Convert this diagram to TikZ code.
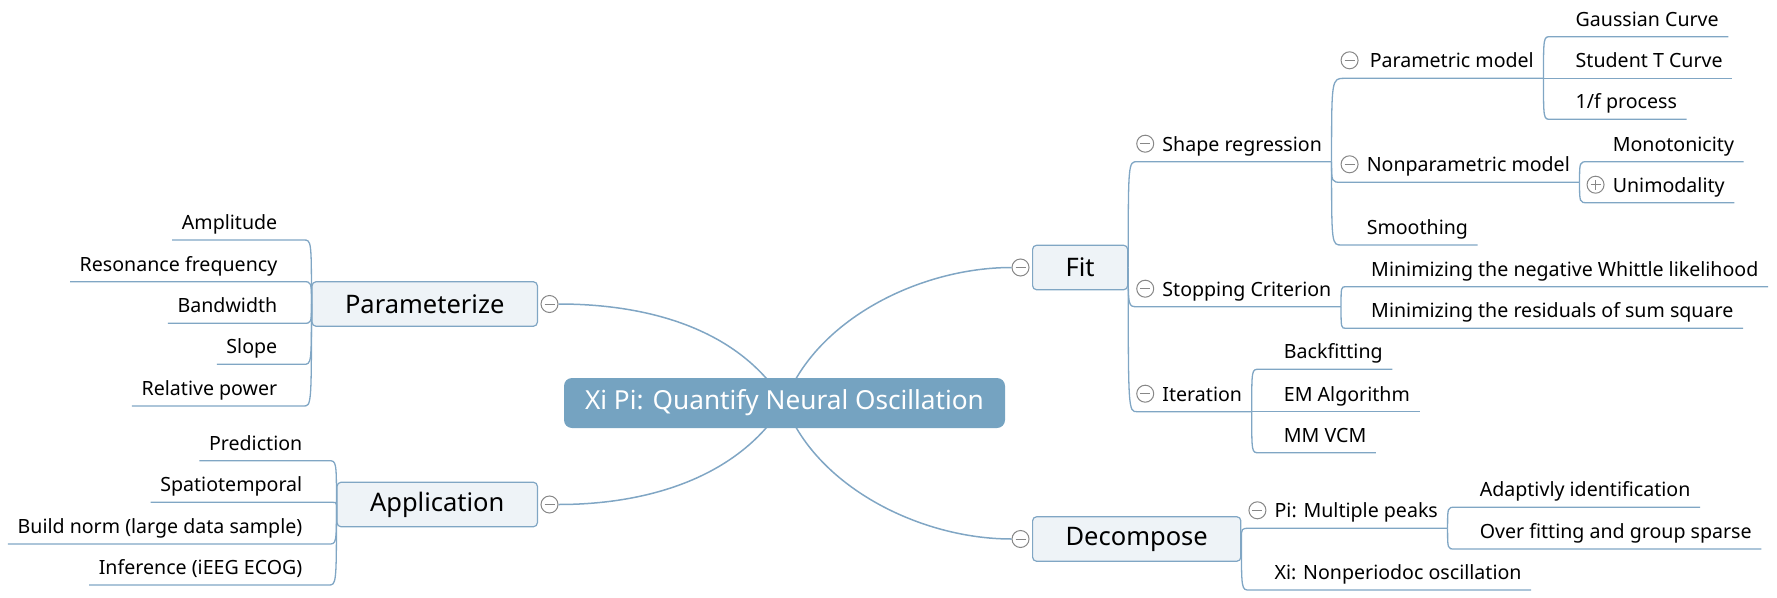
\documentclass[tikz,border=0pt]{standalone}
\usepackage{fontspec}
\setmainfont{Noto Sans}
\usepackage{tikz}
\usetikzlibrary{calc, positioning, backgrounds}
\definecolor{linkblue}{RGB}{128, 166, 196}
\definecolor{topicblue}{RGB}{117, 163, 193}
\definecolor{boxfill}{RGB}{238, 243, 247}
\definecolor{foldgray}{RGB}{135, 135, 135}

\begin{document}
\begin{tikzpicture}[
    x=1pt, y=-1pt,
    topic/.style={fill=topicblue, rounded corners=8pt, text=white, font=\fontsize{26.2}{31}\selectfont, minimum width=441pt, minimum height=50pt, inner sep=0pt},
    branch/.style={draw=linkblue, line width=1.2pt, fill=boxfill, rounded corners=4pt, font=\fontsize{25.5}{30}\selectfont, inner xsep=33pt, minimum height=44.5pt},
    twig/.style={font=\fontsize{19.6}{24}\selectfont, inner xsep=9.5pt, inner ysep=0pt, text depth=10.5pt},
    twigR/.style={twig, anchor=south west, execute at begin node={\hspace*{15.5pt}}},
    twigL/.style={twig, anchor=south east, execute at end node={\hspace*{16.5pt}}},
    fold/.style={circle, draw=foldgray, line width=1pt, fill=white, minimum size=17pt, inner sep=0pt,
        path picture={\draw[foldgray, line width=1pt] ([xshift=-5pt]path picture bounding box.center) -- ([xshift=5pt]path picture bounding box.center);}},
    unfold/.style={fold,
        path picture={\draw[foldgray, line width=1pt] ([xshift=-5pt]path picture bounding box.center) -- ([xshift=5pt]path picture bounding box.center)
            ([yshift=-5pt]path picture bounding box.center) -- ([yshift=5pt]path picture bounding box.center);}},
    ln/.style={draw=linkblue, line width=1.3pt},
    mainln/.style={draw=linkblue, line width=1.5pt},
    elbow/.style={to path={.. controls (\tikztostart |- \tikztotarget) .. (\tikztotarget)}}
]
    \useasboundingbox (0,0) rectangle (1777,597);

    \node[topic] (root) at (784.5,403) {Xi Pi: Quantify Neural Oscillation};

    \node[branch, anchor=east] (par) at (538,304) {Parameterize};
    \node[branch, anchor=east] (app) at (538,504.5) {Application};
    \node[branch, anchor=west] (fit) at (1032,267.5) {Fit};
    \node[branch, anchor=west] (dec) at (1032,539) {Decompose};

    \node[fold, right=2.5pt of par] (parfold) {};
    \node[fold, right=2.5pt of app] (appfold) {};
    \node[fold, left=2.5pt of fit] (fitfold) {};
    \node[fold, left=2.5pt of dec] (decfold) {};

    % left side
    \node[twigL] (amp) at ($(par.west)+(-8,-64)$) {Amplitude};
    \node[twigL] (res) at ($(par.west)+(-8,-22.3)$) {Resonance frequency};
    \node[twigL] (bw) at ($(par.west)+(-8,19.3)$) {Bandwidth};
    \node[twigL] (slo) at ($(par.west)+(-8,60.3)$) {Slope};
    \node[twigL] (rel) at ($(par.west)+(-8,102)$) {Relative power};

    \node[twigL] (pre) at ($(app.west)+(-8,-43.8)$) {Prediction};
    \node[twigL] (spa) at ($(app.west)+(-8,-2.2)$) {Spatiotemporal};
    \node[twigL] (bn) at ($(app.west)+(-8,39.5)$) {Build norm (large data sample)};
    \node[twigL] (inf) at ($(app.west)+(-8,80.5)$) {Inference (iEEG ECOG)};

    % right side
    \node[twigR] (sr) at ($(fit.east)+(9,-105.8)$) {Shape regression};
    \node[twigR] (sc) at ($(fit.east)+(9,39.2)$) {Stopping Criterion};
    \node[twigR] (it) at ($(fit.east)+(9,144.2)$) {Iteration};

    \node[twigR] (pm) at ($(sr.south east)+(13,-83.4)$) {Parametric model};
    \node[twigR] (np) at ($(sr.south east)+(10,20.6)$) {Nonparametric model};
    \node[twigR] (sm) at ($(sr.south east)+(10,83.3)$) {Smoothing};

    \node[twigR] (gc) at ($(pm.south east)+(7,-41.6)$) {Gaussian Curve};
    \node[twigR] (st) at ($(pm.south east)+(7,0)$) {Student T Curve};
    \node[twigR] (fp) at ($(pm.south east)+(7,41)$) {1/f process};

    \node[twigR] (mo) at ($(np.south east)+(8,-20.6)$) {Monotonicity};
    \node[twigR] (un) at ($(np.south east)+(8,20.4)$) {Unimodality};

    \node[twigR] (mw) at ($(sc.south east)+(5,-20)$) {Minimizing the negative Whittle likelihood};
    \node[twigR] (mr) at ($(sc.south east)+(5,21.6)$) {Minimizing the residuals of sum square};

    \node[twigR] (bf) at ($(it.south east)+(7,-42.4)$) {Backfitting};
    \node[twigR] (em) at ($(it.south east)+(7,0)$) {EM Algorithm};
    \node[twigR] (mm) at ($(it.south east)+(7,41)$) {MM VCM};

    \node[twigR] (pk) at ($(dec.east)+(8,-10.7)$) {Pi: Multiple peaks};
    \node[twigR] (xi) at ($(dec.east)+(8,51)$) {Xi: Nonperiodoc oscillation};

    \node[twigR] (ad) at ($(pk.south east)+(7,-21)$) {Adaptivly identification};
    \node[twigR] (ov) at ($(pk.south east)+(7,20.7)$) {Over fitting and group sparse};

    \node[fold] (srfold) at ([xshift=8pt,yshift=18pt]sr.south west) {};
    \node[fold] (scfold) at ([xshift=8pt,yshift=18pt]sc.south west) {};
    \node[fold] (itfold) at ([xshift=8pt,yshift=18pt]it.south west) {};
    \node[fold] (pmfold) at ([xshift=5pt,yshift=18pt]pm.south west) {};
    \node[fold] (npfold) at ([xshift=8pt,yshift=18pt]np.south west) {};
    \node[unfold] (unfold) at ([xshift=8pt,yshift=18pt]un.south west) {};
    \node[fold] (pkfold) at ([xshift=8pt,yshift=18pt]pk.south west) {};

    \draw[ln] (par.west) to[elbow] (amp.south east) -- (amp.south west);
    \draw[ln] (par.west) to[elbow] (res.south east) -- (res.south west);
    \draw[ln] (par.west) to[elbow] (bw.south east) -- (bw.south west);
    \draw[ln] (par.west) to[elbow] (slo.south east) -- (slo.south west);
    \draw[ln] (par.west) to[elbow] (rel.south east) -- (rel.south west);

    \draw[ln] (app.west) to[elbow] (pre.south east) -- (pre.south west);
    \draw[ln] (app.west) to[elbow] (spa.south east) -- (spa.south west);
    \draw[ln] (app.west) to[elbow] (bn.south east) -- (bn.south west);
    \draw[ln] (app.west) to[elbow] (inf.south east) -- (inf.south west);

    \draw[ln] (fit.east) to[elbow] (sr.south west) -- (sr.south east);
    \draw[ln] (fit.east) to[elbow] (sc.south west) -- (sc.south east);
    \draw[ln] (fit.east) to[elbow] (it.south west) -- (it.south east);

    \draw[ln] (sr.south east) to[elbow] (pm.south west) -- (pm.south east);
    \draw[ln] (sr.south east) to[elbow] (np.south west) -- (np.south east);
    \draw[ln] (sr.south east) to[elbow] (sm.south west) -- (sm.south east);

    \draw[ln] (pm.south east) to[elbow] (gc.south west) -- (gc.south east);
    \draw[ln] (pm.south east) to[elbow] (st.south west) -- (st.south east);
    \draw[ln] (pm.south east) to[elbow] (fp.south west) -- (fp.south east);

    \draw[ln] (np.south east) to[elbow] (mo.south west) -- (mo.south east);
    \draw[ln] (np.south east) to[elbow] (un.south west) -- (un.south east);

    \draw[ln] (sc.south east) to[elbow] (mw.south west) -- (mw.south east);
    \draw[ln] (sc.south east) to[elbow] (mr.south west) -- (mr.south east);

    \draw[ln] (it.south east) to[elbow] (bf.south west) -- (bf.south east);
    \draw[ln] (it.south east) to[elbow] (em.south west) -- (em.south east);
    \draw[ln] (it.south east) to[elbow] (mm.south west) -- (mm.south east);

    \draw[ln] (dec.east) to[elbow] (pk.south west) -- (pk.south east);
    \draw[ln] (dec.east) to[elbow] (xi.south west) -- (xi.south east);

    \draw[ln] (pk.south east) to[elbow] (ad.south west) -- (ad.south east);
    \draw[ln] (pk.south east) to[elbow] (ov.south west) -- (ov.south east);

    \begin{scope}[on background layer]
        \draw[mainln] (parfold.east) .. controls +(92,0) and +(-44.5,-73) .. (root.center);
        \draw[mainln] (appfold.east) .. controls +(92,0) and +(-44.5,73) .. (root.center);
        \draw[mainln] (fitfold.west) .. controls +(-92,0) and +(30.5,-83) .. (root.center);
        \draw[mainln] (decfold.west) .. controls +(-92,0) and +(30.5,83) .. (root.center);
    \end{scope}
\end{tikzpicture}
\end{document}
